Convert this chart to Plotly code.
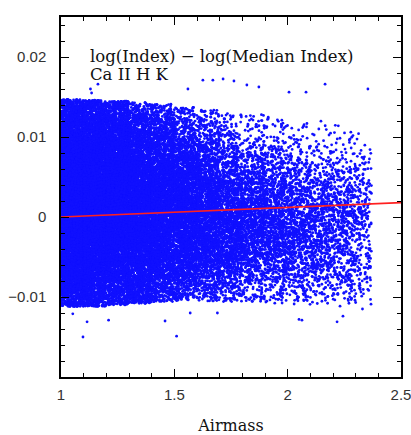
import numpy as np
import plotly.graph_objects as go
from statistics import NormalDist

# ---- Data (per-airmass-bin summary of the point cloud) ----
bin_lo    = [1.00, 1.10, 1.20, 1.30, 1.40, 1.50, 1.60, 1.70, 1.80, 1.90, 2.00, 2.10, 2.20, 2.30]
bin_hi    = [1.10, 1.20, 1.30, 1.40, 1.50, 1.60, 1.70, 1.80, 1.90, 2.00, 2.10, 2.20, 2.30, 2.37]
bin_count = [6000, 5200, 4600, 3800, 3100, 2500, 2000, 1550, 1200, 980, 800, 660, 550, 230]
bin_center = [0.0020, 0.0020, 0.0020, 0.0010, 0.0008, 0.0005, 0.0000, -0.0003, -0.0005, -0.0008, -0.0010, -0.0012, -0.0012, -0.0012]
bin_sigma  = [0.0095, 0.0095, 0.0090, 0.0085, 0.0078, 0.0070, 0.0065, 0.0060, 0.0058, 0.0056, 0.0055, 0.0055, 0.0055, 0.0055]
bin_lower  = [-0.0112, -0.0112, -0.0110, -0.0108, -0.0106, -0.0105, -0.0105, -0.0106, -0.0106, -0.0108, -0.0110, -0.0110, -0.0112, -0.0112]
bin_upper  = [0.0147, 0.0146, 0.0145, 0.0143, 0.0141, 0.0137, 0.0134, 0.0132, 0.0128, 0.0125, 0.0122, 0.0120, 0.0118, 0.0115]

# isolated points read individually
out_x = [1.163, 1.13, 1.135, 1.437, 1.560, 1.626, 1.670, 1.715, 1.763, 1.820, 1.873, 2.006, 2.081, 2.165, 2.354,
         1.097, 1.510, 1.115, 1.210, 1.459, 2.050, 2.063, 2.218, 2.244, 1.052, 1.570, 1.690, 2.330]
out_y = [0.0166, 0.0160, 0.0155, 0.01725, 0.0160, 0.0171, 0.0171, 0.01725, 0.0170, 0.0165, 0.01625, 0.0156, 0.0156, 0.0166, 0.0160,
         -0.0150, -0.0149, -0.0131, -0.0129, -0.0130, -0.0128, -0.0129, -0.0131, -0.0124, -0.0121, -0.0120, -0.0120, -0.0115]

# fitted trend line
fit_x = [1.0, 2.5]
fit_y = [0.0, 0.0018]

y_tickvals = [-0.01, 0.0, 0.01, 0.02]

# ---- Build cloud deterministically (quadratic Weyl sequences, no RNG) ----
nd = NormalDist()
al1, be1 = np.sqrt(2.0) - 1.0, np.sqrt(5.0) - 2.0
al2, be2 = np.sqrt(3.0) - 1.0, np.sqrt(7.0) - 2.0
xs, ys = [], []
for j, (lo, hi, n, c, s, yl, yh) in enumerate(zip(bin_lo, bin_hi, bin_count, bin_center,
                                                   bin_sigma, bin_lower, bin_upper)):
    k = np.arange(1, n + 1, dtype=float) + 7919.0 * j
    u1 = (k * k * al1 + k * be1) % 1.0
    u2 = (k * k * al2 + k * be2) % 1.0
    pa, pb = nd.cdf((yl - c) / s), nd.cdf((yh - c) / s)
    uu = np.clip(pa + u2 * (pb - pa), 1e-9, 1 - 1e-9)
    yv = np.array([c + s * nd.inv_cdf(float(v)) for v in uu])
    xs.append(lo + u1 * (hi - lo))
    ys.append(yv)
xs = np.concatenate(xs + [np.array(out_x)])
ys = np.concatenate(ys + [np.array(out_y)])

fig = go.Figure()
fig.add_trace(go.Scatter(x=xs, y=ys, mode="markers",
                         marker=dict(color="#1010ff", size=2.8, line=dict(width=0)),
                         hoverinfo="skip", showlegend=False))
fig.add_trace(go.Scatter(x=fit_x, y=fit_y, mode="lines",
                         line=dict(color="#ff2020", width=1.6), showlegend=False))

fig.add_annotation(x=0.079, y=0.020125, xref="paper", yref="y", showarrow=False,
                   xanchor="left", yanchor="middle", align="left",
                   text="log(Index) − log(Median Index)",
                   font=dict(family="DejaVu Serif", size=16.5, color="#111"))
fig.add_annotation(x=0.079, y=0.017875, xref="paper", yref="y", showarrow=False,
                   xanchor="left", yanchor="middle", align="left",
                   text="Ca II H K",
                   font=dict(family="DejaVu Serif", size=16.5, color="#111"))

axis_common = dict(showgrid=False, zeroline=False, showline=True, linecolor="black",
                   linewidth=1.5, mirror="allticks", ticks="inside", ticklen=8,
                   tickwidth=1, tickcolor="black", automargin=False,
                   ticklabeloverflow="allow",
                   tickfont=dict(family="Liberation Sans", size=15, color="#333"))

fig.update_xaxes(range=[1, 2.5], dtick=0.5, tick0=1,
                 minor=dict(dtick=0.1, ticks="inside", ticklen=4, tickcolor="black"),
                 title=dict(text="Airmass", font=dict(family="DejaVu Serif", size=16, color="#111"),
                            standoff=25),
                 ticklabelstandoff=3, **axis_common)
fig.update_yaxes(range=[-0.02, 0.025], tickmode="array", tickvals=y_tickvals,
                 minor=dict(tick0=0, dtick=0.002, ticks="inside", ticklen=4, tickcolor="black"),
                 ticklabelstandoff=10, **axis_common)

fig.update_layout(width=411, height=435, margin=dict(l=61, r=10, t=17, b=58),
                  plot_bgcolor="white", paper_bgcolor="white")
fig.write_html("out.html")
